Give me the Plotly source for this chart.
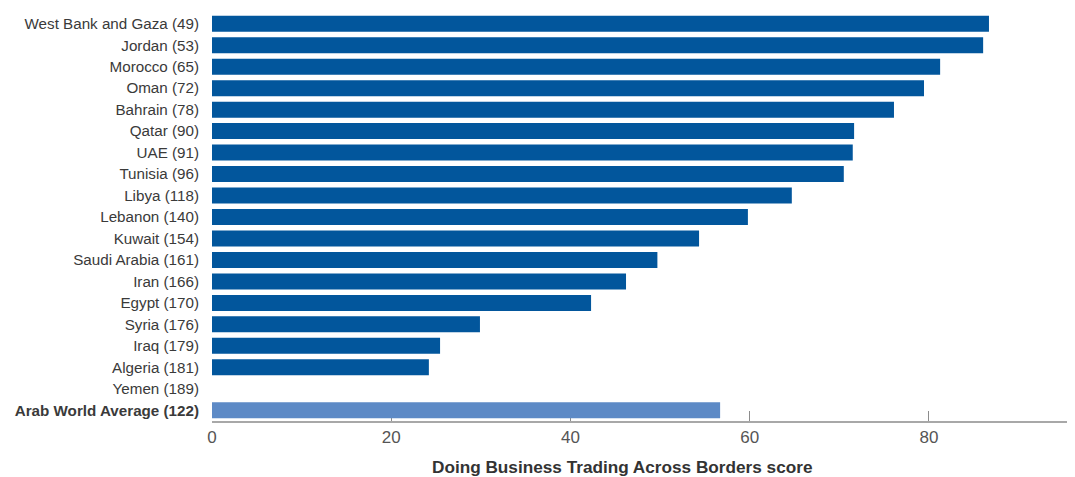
# Doing Business: Trading Across Borders scores, Arab world
import plotly.graph_objects as go

# categories top to bottom
countries = ['West Bank and Gaza (49)', 'Jordan (53)', 'Morocco (65)', 'Oman (72)',
             'Bahrain (78)', 'Qatar (90)', 'UAE (91)', 'Tunisia (96)', 'Libya (118)',
             'Lebanon (140)', 'Kuwait (154)', 'Saudi Arabia (161)', 'Iran (166)',
             'Egypt (170)', 'Syria (176)', 'Iraq (179)', 'Algeria (181)', 'Yemen (189)',
             'Arab World Average (122)']
scores = [86.7, 86.05, 81.25, 79.45, 76.1, 71.65, 71.5, 70.5, 64.7,
          59.8, 54.35, 49.7, 46.2, 42.3, 29.9, 25.45, 24.2, 0, 56.7]

dark_blue = '#02569c'
light_blue = '#5d8ac6'
bar_colors = [light_blue if c.startswith('Arab World') else dark_blue for c in countries]
# bold label for the average row
tick_text = ['<b>' + c + '</b>' if c.startswith('Arab World') else c for c in countries]

fig = go.Figure(go.Bar(
    x=scores, y=countries, orientation='h',
    marker=dict(color=bar_colors, line=dict(width=0)),
    hoverinfo='x+y',
))

# page body has an 8px margin, so the figure is a bit smaller than the window
fig.update_layout(
    width=1067, height=469,
    margin=dict(l=204, r=0, t=5, b=56, autoexpand=False),
    plot_bgcolor='white', paper_bgcolor='white',
    font=dict(family='Liberation Sans, Arial, sans-serif', size=15, color='#444'),
    bargap=0.255,
    showlegend=False,
)
fig.update_yaxes(
    autorange='reversed', automargin=False,
    tickmode='array', tickvals=countries, ticktext=tick_text,
    ticks='', showgrid=False, showline=False,
    ticklabelstandoff=12,
    tickfont=dict(size=15.2, color='#3a3a3a'),
)
fig.update_xaxes(
    range=[0, 96.3], automargin=False,
    tickvals=[0, 20, 40, 60, 80],
    ticks='inside', ticklen=10, tickcolor='#8c8c8c', tickwidth=1,
    showline=True, linecolor='#a8a8a8', linewidth=2,
    showgrid=False, zeroline=False,
    layer='below traces',
    tickfont=dict(size=17, color='#555'),
)
fig.add_annotation(
    text='<b>Doing Business Trading Across Borders score</b>',
    xref='paper', yref='paper', x=0.475, y=-0.113,
    xanchor='center', yanchor='middle', showarrow=False,
    font=dict(size=17.2, color='#333'),
)

fig.write_html('out.html')
